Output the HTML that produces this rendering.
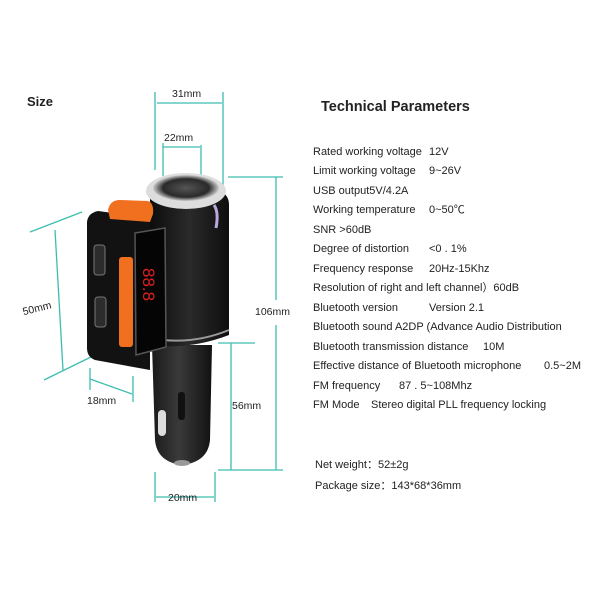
<!DOCTYPE html>
<html><head><meta charset="utf-8"><style>
html,body{margin:0;padding:0;background:#fff}
svg{display:block}
text{font-family:"Liberation Sans","Noto Sans CJK SC",sans-serif;fill:#222}
</style></head><body>
<svg width="600" height="600" viewBox="0 0 600 600" xmlns="http://www.w3.org/2000/svg">
<defs>
<linearGradient id="body" x1="0" x2="1"><stop offset="0" stop-color="#0c0c0c"/><stop offset="0.5" stop-color="#2a2a2a"/><stop offset="1" stop-color="#0e0e0e"/></linearGradient>
<linearGradient id="plug" x1="0" x2="1"><stop offset="0" stop-color="#1a1a1a"/><stop offset="0.45" stop-color="#3a3a3a"/><stop offset="1" stop-color="#111"/></linearGradient>
<radialGradient id="sock"><stop offset="0" stop-color="#555"/><stop offset="0.7" stop-color="#2a2a2a"/><stop offset="1" stop-color="#ccc"/></radialGradient>
</defs>
<text x="27" y="106" font-size="13" font-weight="bold">Size</text>
<g stroke="#3dbdb0" stroke-width="1.3" fill="none">
<line x1="155" y1="92" x2="155" y2="170"/><line x1="223" y1="92" x2="223" y2="195"/><line x1="157" y1="103" x2="222" y2="103"/>
<line x1="163" y1="143" x2="163" y2="176"/><line x1="201" y1="145" x2="201" y2="188"/><line x1="163" y1="147" x2="200" y2="147"/>
<line x1="228" y1="177" x2="283" y2="177"/><line x1="276" y1="177" x2="276" y2="300"/><line x1="276" y1="325" x2="276" y2="470"/><line x1="218" y1="470" x2="283" y2="470"/>
<line x1="218" y1="343" x2="255" y2="343"/><line x1="231" y1="343" x2="231" y2="470"/>
<line x1="155" y1="472" x2="155" y2="502"/><line x1="215" y1="472" x2="215" y2="502"/><line x1="156" y1="497" x2="214" y2="497"/>
<line x1="30" y1="232" x2="82" y2="212"/><line x1="44" y1="380" x2="95" y2="355"/><line x1="55" y1="230" x2="63" y2="370"/>
<line x1="90" y1="368" x2="90" y2="390"/><line x1="133" y1="376" x2="133" y2="402"/><line x1="90" y1="379" x2="132" y2="394"/>
</g>
<g font-size="10.5">
<text x="172" y="97">31mm</text>
<text x="164" y="141">22mm</text>
<text x="255" y="315">106mm</text>
<text x="232" y="409">56mm</text>
<text x="168" y="501">20mm</text>
<text x="87" y="404">18mm</text>
<text x="22" y="312" transform="rotate(-14 36 307)">50mm</text>
</g>
<path d="M152 345 L212 345 L210 440 Q208 462 182 465 Q157 462 155 440 Z" fill="url(#plug)"/>
<rect x="158" y="410" width="8" height="26" rx="4" fill="#ddd"/>
<rect x="178" y="392" width="7" height="28" rx="3" fill="#111"/>
<ellipse cx="182" cy="463" rx="8" ry="3" fill="#999"/>
<path d="M150 192 L222 192 Q229 196 229 205 L229 335 Q190 350 150 345 Z" fill="url(#body)"/>
<path d="M150 338 Q190 346 229 330" stroke="#999" stroke-width="2" fill="none"/>
<ellipse cx="186" cy="191" rx="40" ry="18" fill="#ddd"/>
<ellipse cx="186" cy="188" rx="33" ry="13" fill="url(#sock)"/>
<path d="M214 205 Q219 212 216 228" stroke="#b9a9e0" stroke-width="3" fill="none"/>
<path d="M87 222 Q88 213 98 211 L150 218 L150 370 L95 360 Q87 357 87 348 Z" fill="#121212"/>
<path d="M108 210 Q110 200 120 200 L148 201 Q154 203 153 214 L150 222 L110 219 Z" fill="#f07020"/>
<rect x="119" y="257" width="14" height="90" rx="3" fill="#f07020"/>
<rect x="94" y="245" width="11" height="30" rx="3" fill="#2c2c2c" stroke="#777" stroke-width="1"/>
<rect x="95" y="297" width="11" height="30" rx="3" fill="#2c2c2c" stroke="#777" stroke-width="1"/>
<path d="M135 233 L165 228 L166 347 L136 355 Z" fill="#050505" stroke="#555" stroke-width="1.5"/>
<text x="0" y="0" font-size="17" font-family="Liberation Mono" style="fill:#e02020" transform="translate(143 268) rotate(90)">88.8</text>
<text x="321" y="111" font-size="14.5" font-weight="bold">Technical Parameters</text>
<g font-size="11">
<text x="313" y="155">Rated working voltage</text><text x="429" y="155">12V</text>
<text x="313" y="174">Limit working voltage</text><text x="429" y="174">9~26V</text>
<text x="313" y="194">USB output5V/4.2A</text>
<text x="313" y="213">Working temperature</text><text x="429" y="213">0~50℃</text>
<text x="313" y="233">SNR  &gt;60dB</text>
<text x="313" y="252">Degree of distortion</text><text x="429" y="252">&lt;0 . 1%</text>
<text x="313" y="272">Frequency response</text><text x="429" y="272">20Hz-15Khz</text>
<text x="313" y="291">Resolution of right and left channel）60dB</text>
<text x="313" y="311">Bluetooth version</text><text x="429" y="311">Version 2.1</text>
<text x="313" y="330">Bluetooth sound  A2DP (Advance Audio Distribution</text>
<text x="313" y="350">Bluetooth transmission distance</text><text x="483" y="350">10M</text>
<text x="313" y="369">Effective distance of Bluetooth microphone</text><text x="544" y="369">0.5~2M</text>
<text x="313" y="389">FM frequency</text><text x="399" y="389">87 . 5~108Mhz</text>
<text x="313" y="408">FM Mode</text><text x="371" y="408">Stereo digital PLL frequency locking</text>
<text x="315" y="468">Net weight：52±2g</text>
<text x="315" y="489">Package size：143*68*36mm</text>
</g>
</svg>
</body></html>
